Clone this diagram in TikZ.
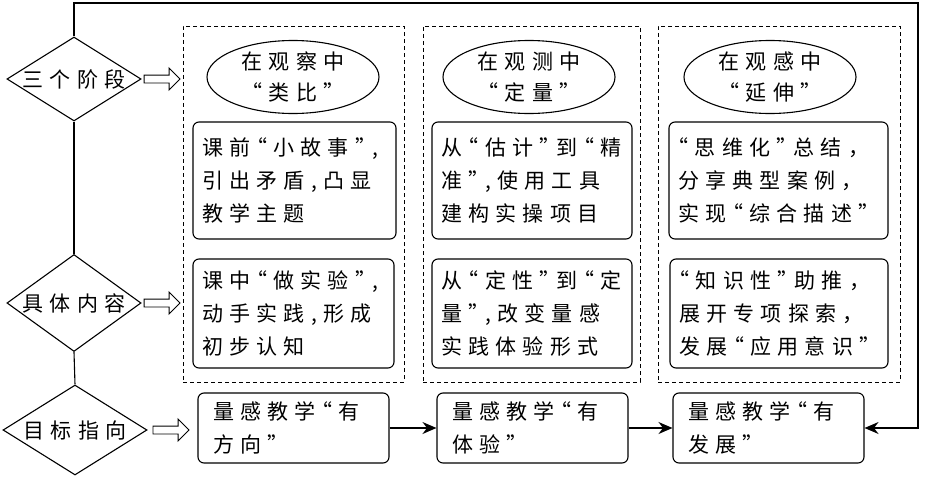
\documentclass[tikz,border=0pt]{standalone}
\usepackage{fontspec}
\newfontfamily\cjk[LetterSpace=30, RawFeature={+halt}]{Noto Sans CJK SC}
\usetikzlibrary{shapes.geometric,shapes.arrows,arrows.meta}
\begin{document}
\begin{tikzpicture}[x=1pt, y=-1pt, line width=1.1pt,
    every node/.style = {font=\cjk\fontsize{21}{33}\selectfont},
    stage/.style = {diamond, draw, aspect=1.6, inner sep=0pt},
    frame/.style = {draw, dash pattern=on 4pt off 3pt, line width=0.9pt},
    oval/.style = {ellipse, draw, align=center, inner sep=0pt,
      minimum width=172pt, minimum height=73pt, font=\cjk\fontsize{21}{31}\selectfont},
    textbox/.style = {draw, rounded corners=6pt, align=left, inner xsep=9pt},
    goal/.style = {draw, rounded corners=6pt, align=left, inner xsep=15pt,
      minimum width=191pt, minimum height=70pt, text width=161pt},
    hollow/.style = {single arrow, draw, line width=0.9pt, inner sep=3.5pt,
      single arrow head extend=7pt, minimum height=36pt, anchor=west},
    link/.style = {-{Stealth[length=14pt, width=12pt]}}]
    \useasboundingbox (0,0) rectangle (927,479);
    \node[stage, minimum width=134pt, minimum height=84pt] (d1) at (74,79) {三个阶段};
    \node[stage, minimum width=134pt, minimum height=97pt] (d2) at (74,303) {具体内容};
    \node[stage, minimum width=144pt, minimum height=90pt] (d3) at (75,430) {目标指向};
    \node[frame, minimum width=221pt, minimum height=356pt] (f1) at (293.5,204) {};
    \node[frame, minimum width=217pt, minimum height=356pt] (f2) at (531.5,204) {};
    \node[frame, minimum width=242pt, minimum height=356pt] (f3) at (779,204) {};
    \node[oval] (e1) at (293,77) {在观察中\\“类比”};
    \node[oval] (e2) at (529,77) {在观测中\\“定量”};
    \node[oval] (e3) at (770,77) {在观感中\\“延伸”};
    \node[textbox, minimum width=203pt, minimum height=117pt, text width=185pt] (b11) at (294.5,180.5)
        {课前“小故事”,\\引出矛盾,凸显\\教学主题};
    \node[textbox, minimum width=200pt, minimum height=117pt, text width=182pt] (b12) at (532,180.5)
        {从“估计”到“精\\准”,使用工具\\建构实操项目};
    \node[textbox, minimum width=219pt, minimum height=117pt, text width=201pt] (b13) at (778.5,180.5)
        {“思维化”总结，\\分享典型案例，\\实现“综合描述”};
    \node[textbox, minimum width=201pt, minimum height=109pt, text width=183pt] (b21) at (293.5,313.5)
        {课中“做实验”,\\动手实践,形成\\初步认知};
    \node[textbox, minimum width=200pt, minimum height=109pt, text width=182pt] (b22) at (532,313.5)
        {从“定性”到“定\\量”,改变量感\\实践体验形式};
    \node[textbox, minimum width=218pt, minimum height=109pt, text width=200pt] (b23) at (779,313.5)
        {“知识性”助推，\\展开专项探索，\\发展“应用意识”};
    \node[goal] (g1) at (293.5,428) {量感教学“有\\方向”};
    \node[goal] (g2) at (532.5,428) {量感教学“有\\体验”};
    \node[goal] (g3) at (768.5,428) {量感教学“有\\发展”};
    \node[hollow] (a1) at ([xshift=2pt]d1.east) {};
    \node[hollow] (a2) at ([xshift=2pt]d2.east) {};
    \node[hollow] (a3) at ([xshift=5pt]d3.east) {};
    \coordinate (back) at (918,3);
    \draw (d1.south) -- (d2.north);
    \draw (d2.south) -- (d3.north);
    \draw[link] (g1) -- (g2);
    \draw[link] (g2) -- (g3);
    \draw[link] (d1.north) |- (back) |- (g3.east);
\end{tikzpicture}
\end{document}
